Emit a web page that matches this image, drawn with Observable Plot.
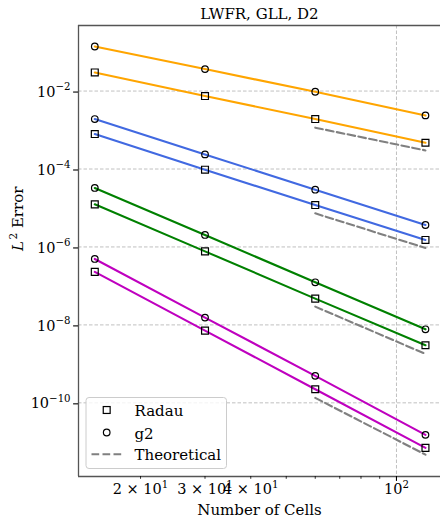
<!DOCTYPE html>
<html><head><meta charset="utf-8">
<script src="https://cdn.jsdelivr.net/npm/d3@7"></script>
<script src="https://cdn.jsdelivr.net/npm/@observablehq/plot@0.6"></script>
<style>
html,body{margin:0;padding:0;background:#fff;}
#chart{width:440px;height:517px;overflow:hidden;}
</style></head><body><div id="chart"></div>
<script>
// ---- data ----
const cells = [15, 30, 60, 120];
const theoryCells = [60, 120];
const seriesColors = ["#ffa500", "#4169e1", "#008000", "#bf00bf"];

const radauOrange = [3.0e-2, 7.45e-3, 1.91e-3, 4.72e-4];
const g2Orange    = [1.39e-1, 3.66e-2, 9.6e-3, 2.37e-3];
const theoryOrange = [1.15e-3, 3.0e-4];

const radauBlue = [7.89e-4, 9.6e-5, 1.19e-5, 1.51e-6];
const g2Blue    = [1.91e-3, 2.37e-4, 2.94e-5, 3.66e-6];
const theoryBlue = [7.28e-6, 9.4e-7];

const radauGreen = [1.24e-5, 7.71e-7, 4.72e-8, 3.0e-9];
const g2Green    = [3.26e-5, 2.03e-6, 1.24e-7, 7.71e-9];
const theoryGreen = [2.94e-8, 1.8e-9];

const radauMagenta = [2.29e-7, 7.14e-9, 2.23e-10, 7.0e-12];
const g2Magenta    = [4.92e-7, 1.54e-8, 4.92e-10, 1.51e-11];
const theoryMagenta = [1.34e-10, 4.68e-12];

const yTicks = [1e-2, 1e-4, 1e-6, 1e-8, 1e-10];
const xLabeledTicks = [20, 30, 40, 60];
const xMinorTicks = [50, 70, 80, 90];
const xMajorTicks = [100];
const legendLabels = ["Radau", "g2", "Theoretical"];
const titleText = "LWFR, GLL, D2";
const xLabel = "Number of Cells";
const yLabel = "L^2 Error";

// ---- build tables ----
const groups = [
  [radauOrange, g2Orange, theoryOrange],
  [radauBlue, g2Blue, theoryBlue],
  [radauGreen, g2Green, theoryGreen],
  [radauMagenta, g2Magenta, theoryMagenta]
];
const rows = [];
const theoryRows = [];
groups.forEach(([ra, g2, th], gi) => {
  cells.forEach((c, i) => rows.push({series: gi + "-radau", group: gi, method: "Radau", color: seriesColors[gi], cells: c, err: ra[i]}));
  cells.forEach((c, i) => rows.push({series: gi + "-g2", group: gi, method: "g2", color: seriesColors[gi], cells: c, err: g2[i]}));
  theoryCells.forEach((c, i) => theoryRows.push({series: gi, cells: c, err: th[i]}));
});

const xDomain = [13.54, 131.9];
const yDomain = [Math.pow(10, -11.89), Math.pow(10, -0.318)];
const gridStyle = {stroke: "#b0b0b0", strokeOpacity: 1, strokeWidth: 0.8, strokeDasharray: "3.5,2"};

const marks = [
  Plot.gridY(yTicks, gridStyle),
  Plot.gridX(xMajorTicks, gridStyle)
];
groups.forEach((g, gi) => {
  for (const m of ["radau", "g2"]) {
    const sid = gi + "-" + m;
    marks.push(Plot.line(rows, {filter: d => d.series === sid, x: "cells", y: "err", stroke: "color", strokeWidth: 2.1}));
    marks.push(Plot.dot(rows, {filter: d => d.series === sid, x: "cells", y: "err",
      symbol: m === "radau" ? "square" : "circle", r: m === "radau" ? 3.89 : 3.3,
      fill: "none", stroke: "black", strokeWidth: 1.2}));
  }
  marks.push(Plot.line(theoryRows, {filter: d => d.series === gi, x: "cells", y: "err",
    stroke: "#808080", strokeWidth: 2.1, strokeDasharray: "7.7,3.3"}));
});

// legend: rows measured from the bottom-left corner of the frame
const legendDy = [-66, -43.5, -21.7];
marks.push(
  Plot.ruleX([xDomain[0]], {stroke: "#555", strokeWidth: 1.3}),
  Plot.ruleY([yDomain[0], yDomain[1]], {stroke: "#555", strokeWidth: 1.3}),
  Plot.axisY(yTicks, {tickSize: 4.9, tickPadding: 3, strokeWidth: 1.1, color: "black", dy: 1,
    tickFormat: d => "10|\u2212" + Math.round(-Math.log10(d)), label: null}),
  Plot.axisX(xLabeledTicks, {tickSize: 2.8, tickPadding: 4.9, strokeWidth: 0.8, color: "black",
    tickFormat: d => (d / 10) + " \u00d7 10|1", label: null}),
  Plot.axisX(xMinorTicks, {tickSize: 2.8, strokeWidth: 0.8, color: "black", tickFormat: () => "", label: null}),
  Plot.axisX(xMajorTicks, {tickSize: 4.9, tickPadding: 2.8, strokeWidth: 1.1, color: "black",
    tickFormat: () => "10|2", label: null}),
  Plot.text([titleText], {text: d => d, frameAnchor: "top", lineAnchor: "middle", dy: -11.8, fontSize: 15, fill: "black"}),
  Plot.text([xLabel], {text: d => d, frameAnchor: "bottom", lineAnchor: "middle", dy: 33.2, fontSize: 15, fill: "black"}),
  Plot.text([yLabel], {text: d => d, frameAnchor: "left", lineAnchor: "middle", rotate: -90, dx: -60.1, fontSize: 15, fill: "black"}),
  ...legendLabels.map((l, i) => Plot.text([l], {text: d => d, frameAnchor: "bottom-left", textAnchor: "start", lineAnchor: "middle",
    dx: 56, dy: legendDy[i] + 0.7, fontSize: 15, fill: "black", fontFamily: "DejaVu Serif"}))
);

const svg = Plot.plot({
  width: 440, height: 517,
  marginTop: 25, marginBottom: 41, marginLeft: 78, marginRight: 0,
  x: {type: "log", domain: xDomain, label: null},
  y: {type: "log", domain: yDomain, label: null},
  color: {type: "identity"},
  style: {fontFamily: "'DejaVu Serif', serif", fontSize: "14.5px", background: "white", overflow: "hidden"},
  marks
});

// ---- mathtext-like formatting: superscripts and italic L ----
const NS = "http://www.w3.org/2000/svg";
svg.querySelectorAll("text").forEach(t => {
  const s = t.textContent;
  if (s === yLabel) {
    t.textContent = "";
    const a = document.createElementNS(NS, "tspan"); a.textContent = "L"; a.setAttribute("font-style", "italic"); t.appendChild(a);
    const b = document.createElementNS(NS, "tspan"); b.textContent = "2"; b.setAttribute("font-size", "10.5px"); b.setAttribute("dy", "-6.5"); b.setAttribute("dx", "1.5"); t.appendChild(b);
    const c = document.createElementNS(NS, "tspan"); c.textContent = " Error"; c.setAttribute("dy", "6.5"); t.appendChild(c);
    return;
  }
  if (!s.includes("|")) return;
  const [base, exp] = s.split("|");
  t.textContent = "";
  const a = document.createElementNS(NS, "tspan"); a.textContent = base; t.appendChild(a);
  const b = document.createElementNS(NS, "tspan"); b.textContent = exp; b.setAttribute("font-size", "10.2px"); b.setAttribute("dy", "-6.3"); t.appendChild(b);
});

// ---- legend box and symbols (drawn beneath the legend texts) ----
const legendTexts = [...svg.querySelectorAll("text")].filter(t => legendLabels.includes(t.textContent));
const firstLegendG = legendTexts.length ? legendTexts[0].closest("g") : null;
const lg = d3.create("svg:g");
lg.append("rect").attr("x", 86).attr("y", 397.5).attr("width", 140.5).attr("height", 71).attr("rx", 3)
  .attr("fill", "white").attr("fill-opacity", 0.8).attr("stroke", "#cccccc").attr("stroke-width", 1);
const rowY = legendDy.map(d => 476 + d);
lg.append("rect").attr("x", 106.7 - 3.45).attr("y", rowY[0] - 3.45).attr("width", 6.9).attr("height", 6.9)
  .attr("fill", "none").attr("stroke", "black").attr("stroke-width", 1.2);
lg.append("circle").attr("cx", 106.7).attr("cy", rowY[1]).attr("r", 3.3)
  .attr("fill", "none").attr("stroke", "black").attr("stroke-width", 1.2);
lg.append("line").attr("x1", 91.5).attr("x2", 121.7).attr("y1", rowY[2]).attr("y2", rowY[2])
  .attr("stroke", "#808080").attr("stroke-width", 2.1).attr("stroke-dasharray", "7.7,3.3");
if (firstLegendG) svg.insertBefore(lg.node(), firstLegendG); else svg.appendChild(lg.node());

document.getElementById("chart").appendChild(svg);
</script></body></html>
